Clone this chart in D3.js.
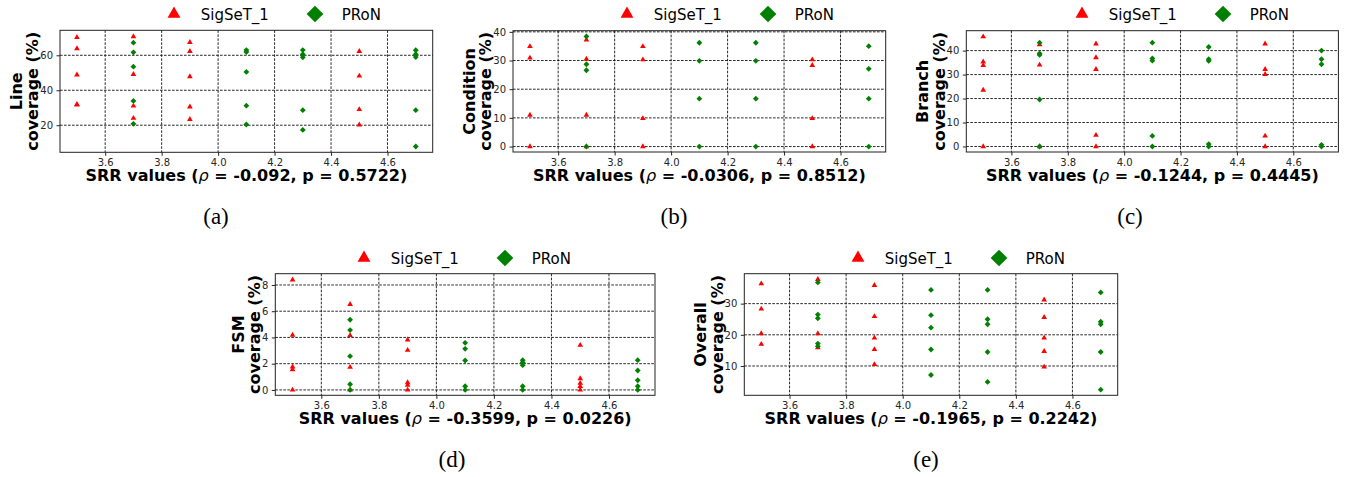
<!DOCTYPE html>
<html>
<head>
<meta charset="utf-8">
<script src="https://cdn.jsdelivr.net/npm/d3@7"></script>
<style>
  html, body { margin: 0; padding: 0; background: #fff; }
  svg { display: block; }
  .tick text { font-family: "DejaVu Sans", sans-serif; font-size: 10px; fill: #262626; }
  .tick line { stroke: #262626; }
</style>
</head>
<body>
<script>
// ─── Data ────────────────────────────────────────────────────────────────────
const X_DOMAIN = [3.44, 4.76];
const X_TICKS = [3.6, 3.8, 4.0, 4.2, 4.4, 4.6];
const SIGSET_SRR = [3.5, 3.7, 3.9, 4.5];   // x positions of SigSeT_1 groups
const PRON_SRR   = [3.7, 4.1, 4.3, 4.7];   // x positions of PRoN groups

// one inner array per SRR value, in the order above
const lineSig = [[70.3, 63.8, 48.8, 32.0, 31.6], [70.7, 49.1, 31.0, 24.0], [67.4, 62.3, 47.8, 30.5, 23.4], [62.3, 48.2, 29.0, 20.2]];
const linePron = [[67.2, 61.7, 53.5, 33.9, 20.8], [63.0, 61.9, 50.5, 31.2, 20.4], [63.0, 60.6, 58.9, 28.6, 17.3], [62.9, 60.6, 59.0, 28.6, 7.8]];

const condSig = [[34.9, 30.9, 11.0, 0], [37.2, 30.5, 11.0, 0], [34.9, 30.3, 9.8, 0], [30.3, 28.3, 9.8, 0]];
const condPron = [[38.4, 28.7, 26.6, 0], [36.2, 29.9, 16.7, 0], [36.2, 29.9, 16.7, 0], [35.0, 27.1, 16.7, 0]];

const branchSig = [[45.8, 35.3, 33.8, 23.5, 0], [42.5, 34.0, 0], [42.8, 37.1, 32.2, 4.7, 0], [42.8, 32.2, 30.1, 4.4, 0]];
const branchPron = [[43.3, 38.8, 38.2, 19.6, 0], [43.3, 36.7, 35.8, 4.4, 0], [41.5, 36.4, 35.7, 1.0, 0], [40.0, 36.4, 34.3, 0.7, 0]];

const fsmSig = [[8.4, 4.18, 1.76, 1.55, 0], [6.52, 4.15, 1.73, 0], [3.82, 3.03, 0.56, 0.36, 0], [3.41, 0.87, 0.51, 0.28, 0]];
const fsmPron = [[5.35, 4.56, 2.57, 0.43, 0], [3.59, 3.13, 2.24, 0.28, 0], [2.27, 2.09, 1.89, 0.28, 0], [2.27, 1.48, 0.74, 0.28, 0]];

const overallSig = [[36.4, 28.3, 20.4, 17.0], [37.8, 20.4, 15.9], [35.9, 25.9, 19.0, 15.3, 10.5], [31.2, 25.6, 19.0, 14.7, 9.7]];
const overallPron = [[36.8, 26.5, 25.3, 17.2, 16.3], [34.4, 26.3, 22.3, 15.3, 7.1], [34.4, 25.0, 23.4, 14.5, 4.9], [33.6, 24.2, 23.4, 14.5, 2.4]];

const Y_LABELS = ['Line', 'Condition', 'Branch', 'FSM', 'Overall'];
const RHO = ['-0.092', '-0.0306', '-0.1244', '-0.3599', '-0.1965'];
const PVAL = ['0.5722', '0.8512', '0.4445', '0.0226', '0.2242'];
const CAPTIONS = ['(a)', '(b)', '(c)', '(d)', '(e)'];
const Y_TICKS = [[20, 40, 60], [0, 10, 20, 30, 40], [0, 10, 20, 30, 40], [0, 2, 4, 6, 8], [10, 20, 30]];
const Y_DOMAINS = [[4.5, 74.3], [-1.9, 40.4], [-2.3, 48.3], [-0.41, 8.86], [0.6, 39.6]];
const LEGEND_LABELS = ['SigSeT_1', 'PRoN'];

// ─── Layout ──────────────────────────────────────────────────────────────────
const SIG_SERIES = [lineSig, condSig, branchSig, fsmSig, overallSig];
const PRON_SERIES = [linePron, condPron, branchPron, fsmPron, overallPron];
const BOXES = [
  { left: 60,    right: 432.7,  top: 30.3,  bottom: 152.3, legX: 174, legY: 14,  capX: 216,  capY: 224 },
  { left: 513,   right: 885.7,  top: 30.7,  bottom: 152,   legX: 627, legY: 14,  capX: 674,  capY: 224 },
  { left: 966.3, right: 1338.4, top: 30.7,  bottom: 152,   legX: 1082, legY: 14, capX: 1130, capY: 224 },
  { left: 275.3, right: 655,    top: 273.7, bottom: 395.3, legX: 364, legY: 258, capX: 452,  capY: 467 },
  { left: 744.3, right: 1117.7, top: 273.7, bottom: 395.3, legX: 858, legY: 258, capX: 926,  capY: 467 }
];
const RED = '#ff0000', GREEN = '#008000';
const FONT = '"DejaVu Sans", sans-serif';

const svg = d3.select('body').append('svg').attr('width', 1347).attr('height', 477);

const tri = d3.symbol().type(d3.symbolTriangle);
const sq = d3.symbol().type(d3.symbolSquare);

function toPoints(srr, vals) {
  return srr.flatMap((s, i) => vals[i].map(v => [s, v]));
}

function drawPanel(i) {
  const b = BOXES[i];
  const x = d3.scaleLinear().domain(X_DOMAIN).range([b.left, b.right]);
  const y = d3.scaleLinear().domain(Y_DOMAINS[i]).range([b.bottom, b.top]);
  const g = svg.append('g');

  // grid
  g.selectAll('line.vgrid').data(X_TICKS).join('line')
    .attr('x1', d => x(d)).attr('x2', d => x(d))
    .attr('y1', b.top).attr('y2', b.bottom)
    .attr('stroke', '#111').attr('stroke-width', 0.9).attr('stroke-dasharray', '2.6,1.4');
  g.selectAll('line.hgrid').data(Y_TICKS[i]).join('line')
    .attr('x1', b.left).attr('x2', b.right)
    .attr('y1', d => y(d)).attr('y2', d => y(d))
    .attr('stroke', '#111').attr('stroke-width', 0.9).attr('stroke-dasharray', '2.6,1.4');

  // axes
  const yAxis = g.append('g').attr('transform', `translate(${b.left},0)`)
    .call(d3.axisLeft(y).tickValues(Y_TICKS[i]).tickSize(3.5).tickPadding(3.5).tickFormat(d3.format('d')));
  yAxis.select('.domain').remove();
  yAxis.attr('font-family', null).attr('font-size', null);
  const xAxis = g.append('g').attr('transform', `translate(0,${b.bottom})`)
    .call(d3.axisBottom(x).tickValues(X_TICKS).tickSize(3.5).tickPadding(3).tickFormat(d3.format('.1f')));
  xAxis.select('.domain').remove();
  xAxis.attr('font-family', null).attr('font-size', null);

  // markers
  g.selectAll('path.sig').data(toPoints(SIGSET_SRR, SIG_SERIES[i])).join('path')
    .attr('class', 'sig')
    .attr('d', tri.size(14)())
    .attr('transform', d => `translate(${x(d[0])},${y(d[1])})`)
    .attr('fill', RED);
  g.selectAll('path.pron').data(toPoints(PRON_SRR, PRON_SERIES[i])).join('path')
    .attr('class', 'pron')
    .attr('d', sq.size(17)())
    .attr('transform', d => `translate(${x(d[0])},${y(d[1])}) rotate(45)`)
    .attr('fill', GREEN);

  // frame
  g.append('rect')
    .attr('x', b.left).attr('y', b.top)
    .attr('width', b.right - b.left).attr('height', b.bottom - b.top)
    .attr('fill', 'none').attr('stroke', '#222').attr('stroke-width', 1);

  // y label (two lines)
  const tickLeft = yAxis.node().getBBox().x + b.left;
  const base2 = tickLeft - 2;
  const cy = (b.top + b.bottom) / 2;
  const yl = g.append('text')
    .attr('transform', `translate(${base2},${cy}) rotate(-90)`)
    .attr('text-anchor', 'middle')
    .attr('font-family', FONT).attr('font-weight', 'bold').attr('font-size', 16);
  yl.append('tspan').attr('x', 0).attr('dy', -16.3).text(Y_LABELS[i]);
  yl.append('tspan').attr('x', 0).attr('dy', 16.3).text('coverage (%)');

  // x label
  const xl = g.append('text')
    .attr('x', (b.left + b.right) / 2).attr('y', b.bottom + 28.5)
    .attr('text-anchor', 'middle')
    .attr('font-family', FONT).attr('font-weight', 'bold').attr('font-size', 16);
  xl.append('tspan').text('SRR values (');
  xl.append('tspan').attr('font-style', 'italic').attr('font-weight', 'normal').text('ρ');
  xl.append('tspan').text(` = ${RHO[i]}, p = ${PVAL[i]})`);

  // legend
  const lg = g.append('g').attr('font-family', FONT).attr('font-size', 15);
  lg.append('path').attr('d', tri.size(72)())
    .attr('transform', `translate(${b.legX},${b.legY})`).attr('fill', RED);
  lg.append('text').attr('x', b.legX + 26.7).attr('y', b.legY + 5.5).text(LEGEND_LABELS[0]);
  lg.append('path').attr('d', sq.size(140)())
    .attr('transform', `translate(${b.legX + 141},${b.legY}) rotate(45)`).attr('fill', GREEN);
  lg.append('text').attr('x', b.legX + 167.7).attr('y', b.legY + 5.5).text(LEGEND_LABELS[1]);

  // caption
  g.append('text')
    .attr('x', b.capX).attr('y', b.capY)
    .attr('text-anchor', 'middle')
    .attr('font-family', '"Liberation Serif", "Times New Roman", serif').attr('font-size', 23)
    .text(CAPTIONS[i]);
}

for (let i = 0; i < 5; i++) drawPanel(i);
</script>
</body>
</html>
